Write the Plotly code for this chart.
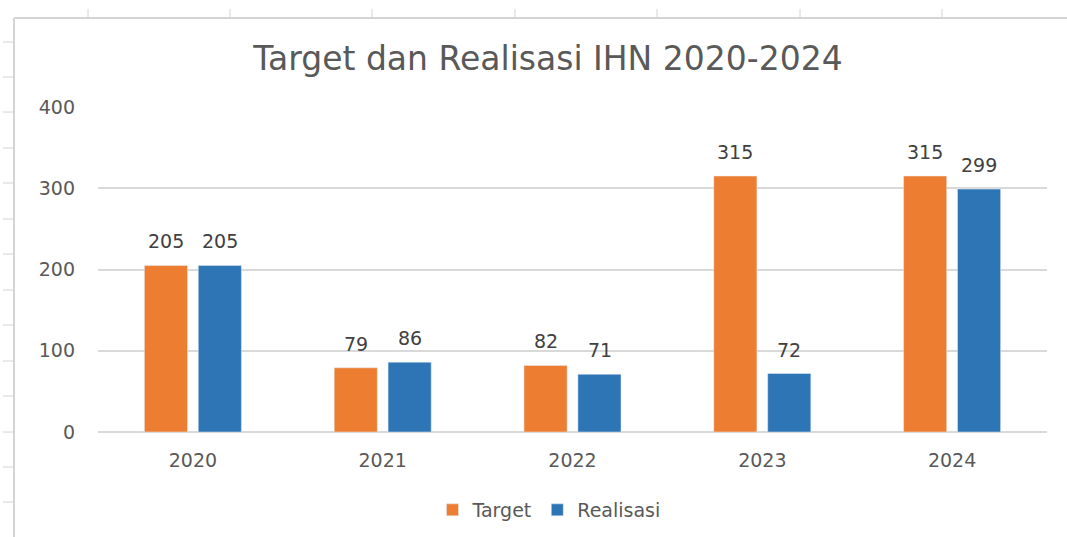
import plotly.graph_objects as go

years = ["2020", "2021", "2022", "2023", "2024"]
target = [205, 79, 82, 315, 315]
realisasi = [205, 86, 71, 72, 299]
y_ticks = [0, 100, 200, 300, 400]

W, H = 1067, 537
L, R, T, B = 98, 20, 107, 105
pw, ph = W - L - R, H - T - B

def px(x):
    return (x - L) / pw

def py(y):
    return (H - B - y) / ph

font_family = "DejaVu Sans, Open Sans, sans-serif"
label_size = 19
bar_offset = 27  # px offset of each bar from category centre

fig = go.Figure()
fig.add_trace(go.Bar(x=years, y=target, name="Target", marker_color="#ED7D31"))
fig.add_trace(go.Bar(x=years, y=realisasi, name="Realisasi", marker_color="#2E75B6"))

annotations = []
for series, shift in ((target, -bar_offset), (realisasi, bar_offset)):
    for i, v in enumerate(series):
        # x is the category serial number on the category axis
        annotations.append(dict(x=i, y=v, xref="x", yref="y", text=str(v), showarrow=False,
                                xshift=shift, yshift=11, yanchor="bottom",
                                font=dict(size=label_size, color="#404040", family=font_family)))

shapes = []
# spreadsheet background border lines
shapes.append(dict(type="line", xref="paper", yref="paper", x0=px(14), x1=px(1070), y0=py(18), y1=py(18),
                   line=dict(color="#d4d4d4", width=2), layer="below"))
shapes.append(dict(type="line", xref="paper", yref="paper", x0=px(14), x1=px(14), y0=py(18), y1=py(540),
                   line=dict(color="#d4d4d4", width=2), layer="below"))
for x in [88, 230, 372, 515, 657, 800, 942]:
    shapes.append(dict(type="line", xref="paper", yref="paper", x0=px(x), x1=px(x), y0=py(9), y1=py(18),
                       line=dict(color="#d4d4d4", width=1), layer="below"))
for y in [42, 77, 112, 148, 183, 219, 254, 290, 325, 361, 396, 432, 467, 502]:
    shapes.append(dict(type="line", xref="paper", yref="paper", x0=px(3), x1=px(14), y0=py(y), y1=py(y),
                       line=dict(color="#d4d4d4", width=1), layer="below"))

fig.update_layout(
    width=W, height=H,
    margin=dict(l=L, r=R, t=T, b=B, pad=0),
    paper_bgcolor="white", plot_bgcolor="white",
    barmode="group", bargap=0.432, bargroupgap=0.2,
    title=dict(text="Target dan Realisasi IHN 2020-2024", x=548 / W, xanchor="center",
               y=1 - 58 / H, yanchor="middle",
               font=dict(size=33, color="#595959", family=font_family)),
    font=dict(family=font_family, color="#595959"),
    xaxis=dict(type="category", showgrid=False, showline=False, zeroline=False, automargin=False,
               tickfont=dict(size=label_size, color="#595959"), ticklabelstandoff=15),
    yaxis=dict(range=[0, 400], tickvals=y_ticks, showgrid=True, gridcolor="#d9d9d9", gridwidth=1.5,
               zeroline=True, zerolinecolor="#d9d9d9", zerolinewidth=1.5, showline=False, automargin=False,
               tickfont=dict(size=label_size, color="#595959"), ticklabelstandoff=22),
    legend=dict(orientation="h", xref="container", yref="container",
                x=549 / W, xanchor="center", y=1 - 510 / H, yanchor="middle",
                font=dict(size=label_size, color="#595959"), itemwidth=30, traceorder="normal"),
    shapes=shapes,
    annotations=annotations,
    showlegend=True,
)

fig.write_html("out.html", config={"displayModeBar": False},
               post_script="document.body.style.margin='0';document.body.style.overflow='hidden';")
